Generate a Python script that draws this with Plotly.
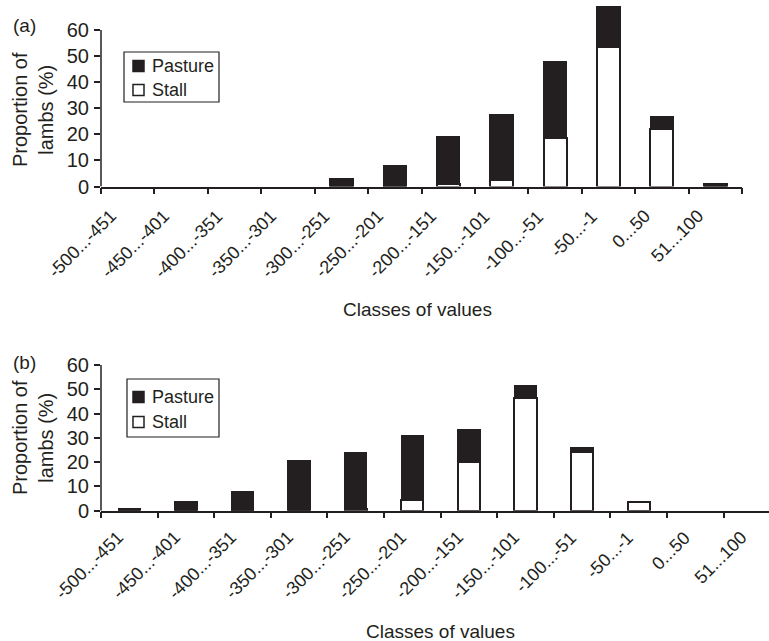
import plotly.graph_objects as go

W, H = 769, 641

classes = ["-500...-451", "-450...-401", "-400...-351", "-350...-301",
           "-300...-251", "-250...-201", "-200...-151", "-150...-101",
           "-100...-51", "-50...-1", "0...50", "51...100"]

# Panel (a): total height of each bar and the Stall part at the bottom
total_a = [0, 0, 0, 0, 3, 8, 19, 27.5, 47.8, 69, 26.7, 1]
stall_a = [0, 0, 0, 0, 0, 0, 1, 2.5, 18.6, 53.5, 21.9, 0]

# Panel (b)
total_b = [1, 3.5, 8, 20.7, 23.9, 30.9, 33.5, 51.3, 25.8, 3.5, 0, 0]
stall_b = [0, 0, 0, 0, 0.7, 4.3, 20, 46.3, 24, 3.5, 0, 0]

series_names = ["Pasture", "Stall"]
y_ticks = [0, 10, 20, 30, 40, 50, 60]


def nz(values):
    # empty classes get no bar at all (avoids outlines on zero-height bars)
    return [v if v > 0 else None for v in values]


pasture_a = [round(t - s, 2) for t, s in zip(total_a, stall_a)]
pasture_b = [round(t - s, 2) for t, s in zip(total_b, stall_b)]

INK = "#231f20"
FONT = "Arial, Liberation Sans, sans-serif"


def px_x(p):
    return p / W


def px_y(p):
    return 1 - p / H


fig = go.Figure()

for stall, pasture, xa, ya, width in [
    (stall_a, pasture_a, "x", "y", 0.43),
    (stall_b, pasture_b, "x2", "y2", 0.39),
]:
    fig.add_trace(go.Bar(
        x=classes, y=nz(stall), name="Stall", xaxis=xa, yaxis=ya,
        width=width, marker=dict(color="white", line=dict(color=INK, width=2)),
    ))
    fig.add_trace(go.Bar(
        x=classes, y=nz(pasture), name="Pasture", xaxis=xa, yaxis=ya,
        width=width, marker=dict(color=INK, line=dict(color=INK, width=1.5)),
    ))

ytick_font = dict(family=FONT, size=20, color=INK)

xcommon = dict(
    type="category", tickson="boundaries", ticks="outside", showticklabels=False,
    ticklen=6, tickwidth=1.5, tickcolor=INK, showline=True, linecolor=INK,
    linewidth=1.5, showgrid=False, zeroline=False, fixedrange=True,
    automargin=False,
)
ycommon = dict(
    tickvals=y_ticks, ticks="outside", ticklen=6,
    tickwidth=1.5, tickcolor=INK, showline=False, showgrid=False,
    zeroline=False, tickfont=ytick_font, ticklabelstandoff=1,
    automargin=False,
)

# panel (b) axis runs past the right edge of the page
b_cat_w = 56.6
b_right = (W - 101) / b_cat_w - 0.5

A_ZERO, B_ZERO = 186.5, 510.7

fig.update_layout(
    width=W, height=H, margin=dict(l=0, r=0, t=0, b=0, autoexpand=False),
    paper_bgcolor="white", plot_bgcolor="white",
    barmode="stack", showlegend=False,
    font=dict(family=FONT, color=INK),
    xaxis=dict(domain=[px_x(101), px_x(742)], anchor="y", range=[-0.5, 11.5], **xcommon),
    yaxis=dict(domain=[px_y(A_ZERO), px_y(4)], anchor="x", range=[0, 70], **ycommon),
    xaxis2=dict(domain=[px_x(101), 1.0], anchor="y2", range=[-0.5, b_right], **xcommon),
    yaxis2=dict(domain=[px_y(B_ZERO), px_y(365)], anchor="x2", range=[0, 60], **ycommon),
)

# vertical axis lines stop at 60
for xr, yr in [("x domain", "y"), ("x2 domain", "y2")]:
    fig.add_shape(type="line", xref=xr, yref=yr, x0=0, x1=0, y0=0, y1=y_ticks[-1],
                  line=dict(color=INK, width=1.5))

# slanted class labels under each category
for xr, top, shift in [("x", A_ZERO + 17, -5), ("x2", B_ZERO + 14, 1)]:
    for c in classes:
        fig.add_annotation(text=c, x=c, xref=xr, y=px_y(top), yref="paper",
                           textangle=-45, xanchor="right", yanchor="top",
                           xshift=shift, showarrow=False,
                           font=dict(family=FONT, size=18, color=INK))


def legend_box(box, rows):
    x0, y0, x1, y1 = box
    fig.add_shape(type="rect", xref="paper", yref="paper",
                  x0=px_x(x0), x1=px_x(x1), y0=px_y(y1), y1=px_y(y0),
                  line=dict(color=INK, width=1.2), fillcolor="white", layer="above")
    for name, fill, yc in rows:
        fig.add_shape(type="rect", xref="paper", yref="paper",
                      x0=px_x(133), x1=px_x(144), y0=px_y(yc + 5.5), y1=px_y(yc - 5.5),
                      line=dict(color=INK, width=1.5), fillcolor=fill, layer="above")
        fig.add_annotation(text=name, x=px_x(150), y=px_y(yc), xanchor="left",
                           yanchor="middle", showarrow=False, xref="paper", yref="paper",
                           font=dict(family=FONT, size=18, color=INK))


legend_box((124, 52, 219, 102), [(series_names[0], INK, 66), (series_names[1], "white", 90)])
legend_box((127, 379, 219, 437), [(series_names[0], INK, 397), (series_names[1], "white", 422)])

ann = dict(showarrow=False, xref="paper", yref="paper", xanchor="center",
           yanchor="middle", font=dict(family=FONT, size=19, color=INK))
fig.add_annotation(text="(a)", x=px_x(24), y=px_y(26), **ann)
fig.add_annotation(text="(b)", x=px_x(24), y=px_y(362), **ann)
fig.add_annotation(text="Proportion of<br>lambs (%)", textangle=-90,
                   x=px_x(33), y=px_y(110), **{**ann, "font": dict(family=FONT, size=20, color=INK)})
fig.add_annotation(text="Proportion of<br>lambs (%)", textangle=-90,
                   x=px_x(33), y=px_y(438), **{**ann, "font": dict(family=FONT, size=20, color=INK)})
fig.add_annotation(text="Classes of values", x=px_x(417), y=px_y(310), **ann)
fig.add_annotation(text="Classes of values", x=px_x(440), y=px_y(631), **ann)

fig.write_html("out.html")
